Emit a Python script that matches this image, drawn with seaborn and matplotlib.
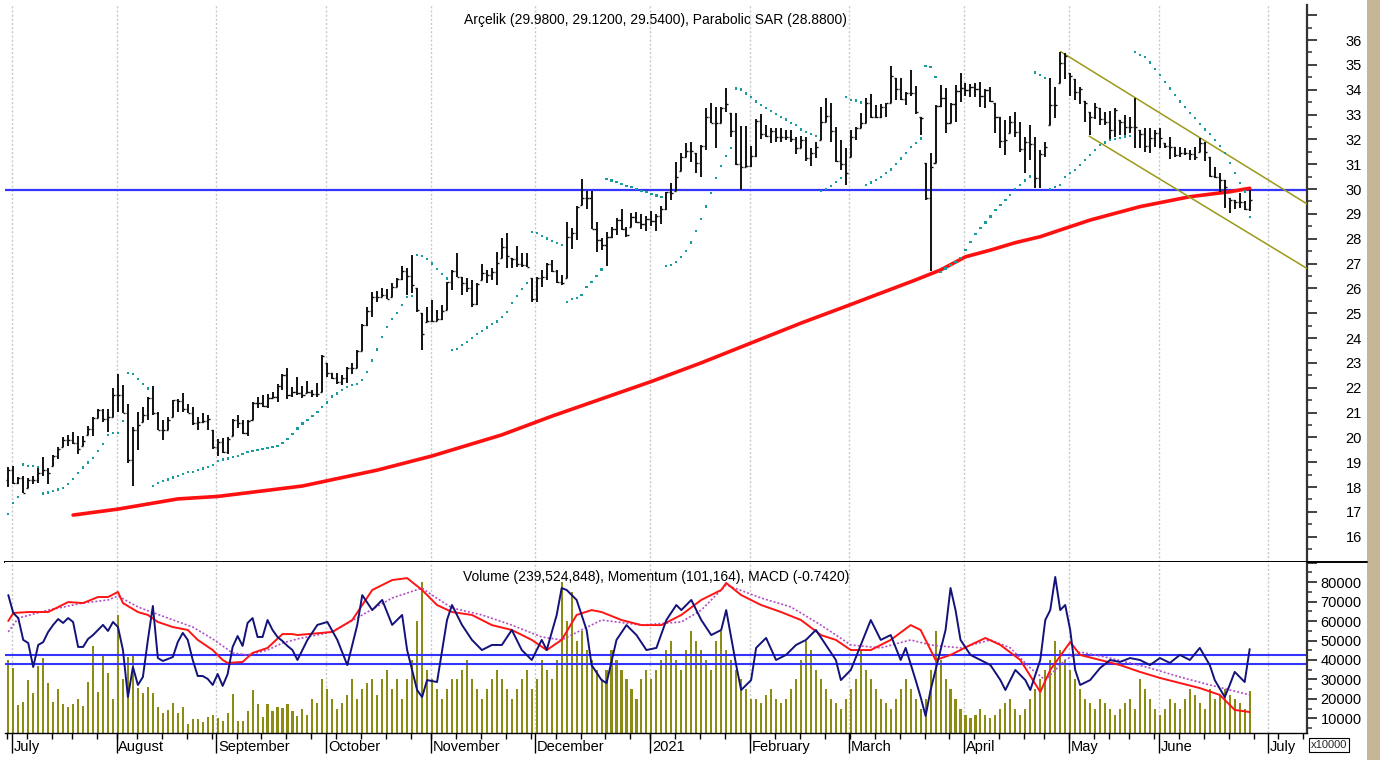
import numpy as np
import pandas as pd
import matplotlib
matplotlib.use("Agg")
import matplotlib.pyplot as plt
import matplotlib.transforms as mtransforms
from matplotlib.patches import Rectangle
from matplotlib.lines import Line2D
from matplotlib.ticker import FixedLocator, MultipleLocator, FuncFormatter
import seaborn as sns

# ---------------- data ----------------
start_date = "2020-06-30"
end_date = "2021-06-25"
holidays = ["2020-07-15", "2020-07-31", "2020-08-03", "2020-10-29", "2021-01-01",
            "2021-04-23", "2021-05-13", "2021-05-14", "2021-05-19"]

price_open = [
    18.3,18.7,18.17,18.35,17.98,18.28,18.3,18.55,18.68,18.84,
    19.24,19.62,19.89,19.89,19.78,19.65,20.09,20.32,20.76,21.1,
    20.72,20.83,21.7,21.7,20.99,19.08,20.3,20.63,20.9,21.57,
    20.96,20.3,20.3,20.83,21.5,21.47,21.16,21.0,20.56,20.63,
    20.67,20.29,19.6,19.83,19.42,20.05,20.7,20.56,20.16,20.7,
    21.4,21.4,21.26,21.57,21.64,22.08,22.51,21.7,21.84,21.77,
    21.77,21.84,21.73,21.84,23.0,22.58,22.37,22.24,22.37,22.81,
    22.78,23.49,24.52,25.1,25.66,25.66,25.73,25.66,26.07,26.36,
    26.71,26.5,26.0,24.99,24.66,24.68,24.7,24.75,25.13,26.24,
    26.71,26.47,26.2,26.0,25.36,26.34,26.6,26.54,26.64,27.21,
    27.65,27.21,27.17,26.98,26.94,26.4,25.56,26.4,26.44,27.0,
    26.7,26.27,26.4,28.05,28.24,29.36,29.62,29.62,28.38,27.95,
    27.74,28.08,28.37,28.75,28.37,28.48,28.86,28.68,28.6,28.8,
    28.7,28.9,29.2,29.86,29.9,30.74,31.3,31.54,31.44,31.03,
    31.73,32.9,32.67,32.67,33.25,33.05,32.35,31.0,30.9,30.93,
    31.33,32.75,32.2,32.13,32.35,32.1,32.08,32.08,32.0,31.64,
    31.97,31.24,31.44,31.97,32.71,32.94,32.35,31.14,31.0,31.28,
    32.08,32.44,32.67,33.45,32.89,32.91,33.29,33.48,34.46,34.01,
    33.61,33.85,33.85,32.91,31.03,29.62,31.06,33.34,33.65,32.64,
    33.42,33.96,34.05,33.99,34.12,34.01,33.75,33.99,33.45,32.91,
    31.95,32.27,32.71,32.31,31.6,31.91,31.81,30.43,31.41,32.58,
    33.38,34.28,35.06,34.66,34.42,33.92,33.56,33.11,32.89,33.25,
    32.81,32.71,32.38,32.78,32.71,32.51,32.48,32.38,32.21,31.73,
    32.04,32.27,31.84,31.73,31.68,31.37,31.46,31.44,31.41,31.5,
    31.84,31.3,30.52,30.5,30.36,29.62,29.56,29.49,29.49,29.18]

price_high = [
    18.79,18.84,18.41,18.44,18.35,18.44,18.81,19.2,18.75,19.28,
    19.6,20.0,20.09,20.2,20.05,20.05,20.45,20.83,21.16,21.16,
    21.16,21.97,22.57,22.1,21.36,20.43,21.03,21.23,21.63,22.06,
    21.03,20.7,20.83,21.5,21.53,21.77,21.36,21.23,20.83,20.96,
    20.9,20.29,19.92,19.96,20.0,20.72,20.9,20.7,20.7,21.44,
    21.64,21.7,21.75,21.84,22.15,22.55,22.78,22.04,22.44,22.07,
    22.28,21.9,22.17,23.31,23.0,22.6,22.58,22.51,22.85,22.98,
    23.52,24.56,25.26,25.87,25.9,26.0,25.96,26.2,26.43,26.9,
    26.8,27.34,26.0,24.99,25.26,25.53,25.13,25.33,26.27,26.74,
    27.41,26.47,26.4,26.34,26.2,26.98,26.74,26.8,27.48,28.01,
    28.24,27.21,27.7,27.41,27.41,26.4,26.44,26.74,27.03,27.14,
    26.74,26.54,28.68,28.42,29.32,30.39,29.93,29.93,28.68,28.01,
    28.28,28.46,28.82,29.18,28.48,29.02,29.09,29.0,28.9,29.1,
    29.0,29.3,29.89,30.23,31.1,31.46,31.84,31.9,31.44,31.77,
    33.25,33.45,33.32,33.32,34.05,33.05,33.05,32.54,32.54,31.73,
    32.8,33.02,32.58,32.44,32.44,32.44,32.38,32.38,32.11,32.13,
    32.11,31.64,31.91,33.32,33.65,33.45,32.51,31.97,31.64,32.38,
    32.51,33.05,33.65,33.83,33.38,33.42,33.48,34.95,34.46,34.46,
    33.92,34.79,34.15,32.91,31.03,31.44,33.38,34.19,34.05,33.45,
    34.19,34.66,34.26,34.23,34.28,34.32,34.01,34.12,33.45,32.91,
    32.78,32.94,33.11,32.71,32.11,32.58,32.11,31.57,31.91,34.46,
    34.12,35.53,35.46,34.66,34.42,34.12,33.56,33.11,33.45,33.25,
    33.11,33.15,33.25,32.78,32.98,32.91,33.65,32.38,32.44,32.44,
    32.38,32.44,31.84,32.11,31.7,31.7,31.64,31.57,31.7,32.04,
    31.91,31.3,30.9,30.63,30.36,29.62,29.56,29.83,29.53,29.98]

price_low = [
    18.01,18.12,18.12,17.74,17.98,18.12,18.17,18.44,18.12,18.84,
    19.11,19.62,19.65,19.73,19.33,19.65,20.09,20.05,20.76,20.63,
    20.22,20.83,21.03,20.96,18.95,18.04,19.49,20.63,20.7,20.9,
    20.29,19.89,20.29,20.83,21.03,21.03,20.96,20.49,20.29,20.56,
    20.29,19.55,19.25,19.36,19.33,20.05,20.36,20.13,20.05,20.7,
    21.17,21.24,21.17,21.57,21.44,21.9,21.53,21.64,21.7,21.57,
    21.77,21.64,21.64,21.84,22.44,22.34,22.15,22.11,22.17,22.55,
    22.78,23.49,24.48,24.86,25.46,25.66,25.56,25.66,26.07,26.34,
    25.73,25.8,25.06,23.52,24.66,24.66,24.7,24.73,25.13,25.93,
    26.47,25.73,25.87,25.26,25.33,26.34,26.2,26.34,26.13,27.21,
    26.8,26.8,26.87,26.87,26.85,25.46,25.46,26.04,26.34,26.67,
    26.2,26.13,26.4,27.58,27.95,29.36,29.18,28.37,27.48,27.54,
    26.9,28.01,28.15,28.35,28.08,28.48,28.62,28.4,28.3,28.5,
    28.3,28.6,29.15,29.56,29.9,30.74,31.3,31.1,30.63,30.47,
    31.57,32.64,31.64,32.64,33.11,32.11,30.95,29.96,30.9,30.9,
    31.3,32.0,32.08,31.84,31.91,31.91,31.97,31.91,31.41,31.64,
    31.14,30.93,31.24,31.97,32.71,31.91,31.1,30.77,30.16,31.28,
    31.97,32.44,32.64,32.84,32.84,32.84,32.91,33.48,33.58,33.58,
    33.38,33.75,33.02,32.18,29.56,26.71,31.06,33.32,32.24,32.64,
    32.71,33.52,33.75,33.72,33.72,33.32,33.25,33.52,32.24,31.64,
    31.37,32.27,32.11,31.5,30.66,31.17,30.03,30.03,31.28,32.58,
    32.85,34.28,34.42,33.75,33.58,33.42,32.71,32.17,32.81,32.58,
    32.58,31.97,32.08,32.17,32.17,32.24,31.64,31.64,31.5,31.44,
    31.7,31.64,31.64,31.19,31.3,31.3,31.37,31.17,31.17,31.5,
    31.14,30.47,30.43,29.89,29.22,29.02,29.18,29.22,29.15,29.12]

price_close = [
    18.7,18.17,18.35,17.77,18.28,18.3,18.55,18.68,18.55,19.24,
    19.55,19.89,19.89,19.78,19.55,19.86,20.32,20.76,21.1,20.72,
    20.83,21.7,21.7,20.99,19.08,20.3,20.5,20.9,21.57,20.96,
    20.3,20.3,20.7,21.5,21.47,21.16,21.0,20.56,20.63,20.67,
    20.72,19.6,19.83,19.42,19.92,20.7,20.56,20.16,20.67,21.4,
    21.4,21.26,21.57,21.64,22.08,22.51,21.7,21.84,21.77,21.7,
    21.84,21.73,21.75,23.27,22.58,22.37,22.24,22.37,22.81,22.78,
    23.49,24.52,25.1,25.66,25.64,25.73,25.58,26.07,26.36,26.71,
    26.5,26.13,25.13,24.16,24.68,24.7,24.75,25.1,26.24,26.71,
    26.47,26.2,26.0,25.36,26.17,26.6,26.54,26.64,27.03,27.65,
    27.3,27.17,26.98,26.94,26.87,25.56,26.4,26.44,27.0,26.7,
    26.27,26.2,28.05,28.24,29.29,29.62,29.62,28.38,27.95,27.74,
    28.08,28.37,28.75,28.37,28.15,28.86,28.68,28.6,28.8,28.7,
    28.9,29.2,29.86,29.85,30.5,31.28,31.54,31.54,31.03,31.73,
    32.9,32.67,32.67,33.25,33.42,32.35,31.0,30.9,30.93,31.33,
    32.75,32.2,32.13,32.35,32.1,32.08,32.08,32.0,31.64,31.97,
    31.24,31.44,31.68,32.71,32.94,32.35,31.14,31.0,30.63,32.08,
    32.44,32.67,33.45,32.89,32.91,33.29,33.45,34.55,34.01,33.61,
    33.85,33.85,33.12,32.85,29.62,30.9,33.34,33.65,32.64,33.42,
    33.96,34.05,33.99,34.12,34.01,33.75,33.99,33.56,32.91,31.95,
    31.97,32.71,32.31,31.6,31.91,31.81,30.43,31.41,31.68,33.38,
    33.38,35.06,35.36,34.55,33.92,34.01,33.48,32.89,33.29,32.81,
    32.71,32.38,33.18,32.71,32.51,32.48,32.51,32.21,31.73,32.04,
    32.27,32.04,31.73,31.68,31.37,31.46,31.44,31.41,31.3,31.84,
    31.5,30.52,30.5,30.36,30.09,29.56,29.49,29.49,29.18,29.54]

parabolic_sar = [
    16.91,17.35,17.6,18.91,18.86,18.84,18.81,17.74,17.78,17.83,
    17.9,17.97,18.12,18.32,18.57,18.79,18.99,19.18,19.46,19.73,
    20.08,20.18,20.18,20.65,22.6,22.55,22.35,22.14,21.97,18.04,
    18.17,18.25,18.3,18.38,18.44,18.51,18.59,18.61,18.68,18.75,
    18.81,18.9,19.06,19.11,19.15,19.2,19.25,19.32,19.4,19.45,
    19.49,19.53,19.56,19.62,19.66,19.76,19.92,20.13,20.36,20.56,
    20.7,20.87,21.03,21.21,21.4,21.64,21.77,21.91,22.04,22.11,
    22.15,22.31,22.64,23.09,23.54,24.03,24.43,24.77,25.02,25.33,
    25.64,25.69,27.34,27.3,27.17,27.0,26.78,26.58,26.4,23.52,
    23.56,23.72,23.85,23.99,24.15,24.28,24.42,24.55,24.66,24.86,
    25.06,25.4,25.69,25.96,26.2,28.26,28.22,28.11,28.01,27.92,
    27.84,27.74,25.44,25.57,25.6,25.73,26.04,26.27,26.5,26.76,
    30.39,30.34,30.27,30.2,30.13,30.07,30.0,29.93,29.88,29.8,
    29.74,29.69,26.9,26.95,27.05,27.25,27.5,27.85,28.3,28.8,
    29.3,29.85,30.43,30.93,31.34,31.66,34.05,34.01,33.85,33.69,
    33.52,33.38,33.25,33.14,33.02,32.89,32.8,32.67,32.58,32.4,
    32.31,32.22,32.13,29.93,29.99,30.13,30.27,30.43,33.69,33.58,
    33.56,33.48,30.16,30.26,30.36,30.47,30.63,30.79,31.0,31.23,
    31.44,31.68,31.84,32.03,34.95,34.9,34.52,26.67,26.8,26.94,
    27.07,27.21,27.54,27.88,28.19,28.42,28.65,28.89,29.16,29.36,
    29.56,29.76,29.99,30.16,30.34,30.5,34.69,34.59,34.46,30.0,
    30.09,30.16,30.47,30.63,30.77,30.97,31.17,31.37,31.57,31.77,
    31.87,31.97,32.0,32.04,32.11,32.13,35.53,35.4,35.33,35.09,
    34.82,34.59,34.32,34.05,33.79,33.52,33.29,33.07,32.85,32.62,
    32.4,32.21,31.97,31.73,31.46,31.06,30.63,30.23,29.9,28.88]

# 200-day moving average, read at selected sessions (session number, value)
ma_session = [13, 22, 34, 42, 59, 74, 85, 99, 109, 119, 129, 139, 149, 159, 169,
              182, 187, 192, 197, 202, 207, 211, 217, 227, 237, 245, 249]
ma_value = [16.87, 17.11, 17.52, 17.62, 18.04, 18.68, 19.25, 20.1, 20.85, 21.55, 22.25,
            23.0, 23.8, 24.6, 25.35, 26.34, 26.74, 27.27, 27.54, 27.84, 28.08, 28.35,
            28.75, 29.29, 29.69, 29.89, 30.03]

support_level = 29.95
channel_upper_session = [211.1, 260.5]
channel_upper_value = [35.53, 29.4]
channel_lower_session = [216.8, 260.5]
channel_lower_value = [32.13, 26.8]

# volume in units of 10000 shares
volume = [
    40000,36000,16900,18600,29700,22900,36900,40800,28000,18600,
    25000,17400,16000,17400,20000,16400,28500,47200,23400,42500,
    33200,20000,63000,30100,41700,42000,25500,23200,26100,23200,
    16000,13000,14400,18100,13000,15700,7100,9600,9600,8300,
    10900,11800,10100,8800,12600,22400,8800,8800,14000,24600,
    17400,10900,17400,14000,15700,15200,17400,14000,11300,
    15000,12000,20000,18000,30000,25000,20000,15000,18000,22000,
    30000,20000,25000,28000,30000,22000,30000,35000,25000,30000,20000,
    30000,40000,60000,80000,35000,30000,25000,20000,25000,30000,
    30000,35000,40000,30000,25000,20000,25000,30000,35000,30000,
    25000,20000,25000,30000,35000,25000,30000,40000,35000,30000,
    40000,80000,60000,75000,50000,55000,45000,40000,35000,30000,
    35000,45000,40000,35000,30000,25000,20000,30000,35000,30000,
    35000,40000,45000,50000,40000,35000,45000,55000,50000,45000,
    40000,35000,50000,55000,45000,40000,35000,30000,25000,20000,
    20000,18000,22000,25000,20000,18000,20000,25000,30000,40000,
    50000,45000,35000,30000,25000,20000,18000,15000,20000,25000,
    30000,45000,35000,30000,25000,20000,18000,15000,20000,25000,
    30000,25000,20000,15000,20000,35000,55000,40000,30000,25000,
    20000,15000,12000,10000,12000,15000,12000,10000,12000,15000,
    18000,20000,15000,12000,15000,20000,25000,30000,35000,40000,
    50000,45000,40000,35000,30000,25000,20000,18000,15000,20000,
    18000,15000,12000,15000,18000,20000,15000,30000,25000,20000,
    15000,12000,15000,20000,18000,15000,20000,25000,22000,18000,
    15000,25000,20000,22000,25000,22000,20000,18000,15000,24000]

# momentum (plotted on the volume scale)
momentum_session = list(range(0, 59)) + [
    60, 62, 64, 66, 68, 70, 71, 73, 75, 77, 79, 80, 82, 83, 84, 86, 88, 89, 91, 93,
    95, 97, 99, 101, 103, 105, 107, 108, 110, 111, 112, 114, 116, 117, 119, 120, 122,
    124, 126, 128, 130, 132, 134, 135, 137, 139, 141, 143, 144, 146, 147, 149, 150,
    152, 154, 156, 158, 160, 162, 164, 166, 167, 169, 171, 173, 175, 177, 179, 180,
    182, 183, 184, 185, 186, 188, 189, 190, 191, 193, 195, 197, 199, 200, 202, 204,
    205, 207, 208, 209, 210, 211, 212, 213, 214, 215, 217, 219, 221, 223, 225, 227,
    229, 231, 233, 235, 237, 239, 241, 242, 244, 245, 246, 248, 249]
momentum_value = [
    73300,64100,61500,50300,48700,36400,47700,49200,54400,58000,
    61000,59000,61500,59500,46700,46700,50800,52800,55400,58000,
    54900,59500,56900,45100,21000,36400,27200,31300,50300,67700,
    41000,39500,40500,41500,49200,53900,50300,40000,31800,31800,
    30300,27200,32800,26700,32800,46700,52300,47200,59000,61500,
    51800,51800,60500,55400,51800,49700,47200,45100,40000,
    50300,58000,59500,50300,37400,58000,73300,65600,70800,58000,
    63100,45100,24600,21000,29700,28700,60500,68200,58000,50300,
    45100,47700,47700,55400,45100,40000,50300,45100,63100,76900,
    75900,70800,55400,37400,29700,28200,50300,57900,52800,45100,
    46200,60500,68200,65600,70800,60500,52800,55400,65600,37400,
    24600,29700,46200,51300,40000,42600,47700,50300,55400,47700,
    40000,29700,34900,47700,60500,50300,52800,40000,46200,29700,
    21000,11300,24600,34900,55400,76900,65600,50300,42600,40000,
    37400,29700,24600,34900,29700,24600,40000,60500,65600,82600,
    65600,68200,55400,34900,27200,29700,35900,40000,39000,41000,
    40000,37400,41000,38500,42600,40000,46200,37400,29700,21000,
    27200,33900,28700,45600]

# MACD and signal (plotted on the volume scale)
macd_session = [0, 1, 4, 8, 12, 15, 18, 20, 22, 23, 26, 28, 30, 33, 36, 38, 41, 43, 44,
                47, 49, 52, 55, 57, 58, 65, 69, 73, 77, 80, 83, 86, 89, 93, 97, 101, 105,
                108, 111, 114, 117, 119, 123, 127, 131, 135, 139, 143, 144, 147, 151, 155,
                159, 163, 166, 169, 173, 177, 181, 183, 186, 189, 193, 196, 199, 203, 207,
                209, 213, 215, 219, 223, 227, 231, 235, 239, 243, 246, 249]
macd_value = [60000, 64100, 64600, 64600, 69700, 69200, 72300, 72300, 74900, 69200,
              64600, 63100, 59500, 56900, 55400, 50300, 45100, 40000, 38500, 39000,
              43600, 46200, 53300, 53300, 52800, 54400, 60500, 75900, 81000, 82000,
              75900, 68200, 64600, 63100, 57900, 55400, 50300, 45100, 50300, 63100,
              65600, 64600, 60500, 57900, 57900, 63100, 70800, 75900, 79500, 73300,
              68200, 64600, 60500, 52800, 50300, 45100, 45100, 50300, 57900, 55400,
              40000, 42600, 47700, 51300, 47700, 40000, 23600, 34900, 49200, 42600,
              40000, 37400, 33900, 30800, 28200, 25600, 22100, 14400, 13300]
signal_session = [0, 2, 8, 15, 20, 22, 26, 32, 37, 41, 45, 48, 52, 55, 58, 65, 71, 77,
                  83, 85, 89, 95, 101, 107, 111, 115, 119, 127, 135, 139, 144, 151, 157,
                  163, 169, 175, 181, 185, 191, 197, 201, 205, 208, 212, 215, 221, 229,
                  235, 241, 249]
signal_value = [54400, 61500, 65600, 69200, 70800, 72800, 67200, 61500, 56900, 50800,
                43600, 42600, 45100, 48700, 50800, 54400, 63100, 71800, 76900, 73300,
                66700, 63100, 57900, 51800, 50300, 55400, 60500, 57900, 59500, 65600,
                78500, 71800, 67200, 57900, 47700, 46200, 50300, 47700, 46200, 50300,
                46200, 35900, 29700, 40000, 44100, 41000, 35900, 31300, 27200, 22100]

volume_levels = [42500, 37800]

month_names = ["July", "August", "September", "October", "November", "December",
               "2021", "February", "March", "April", "May", "June", "July"]

title_main = "Arçelik (29.9800, 29.1200, 29.5400), Parabolic SAR (28.8800)"
title_lower = "Volume (239,524,848), Momentum (101,164), MACD (-0.7420)"

# ---------------- sessions / calendar ----------------
hol = pd.to_datetime(holidays)
all_days = pd.bdate_range(start_date, "2021-07-31")
all_days = all_days[~all_days.isin(hol)]
n = len(price_close)
session = np.arange(n)
cal = pd.DataFrame({"date": all_days, "s": np.arange(len(all_days))})
month_first = cal.groupby([cal.date.dt.year, cal.date.dt.month])["s"].min().values
month_first = [m for m in month_first if m > 0][:len(month_names)]
iso = cal.date.dt.isocalendar()
week_first = cal.groupby([iso.year, iso.week])["s"].min().values
week_first = [w for w in week_first if w <= 260]
month_pos = [m - 0.27 for m in month_first]
week_pos = [w - 0.22 for w in week_first]

# ---------------- figure ----------------
sns.set_theme(style="white")
plt.rcParams["font.family"] = ["Liberation Sans", "DejaVu Sans"]

W, H = 1380, 760
fig = plt.figure(figsize=(W / 100, H / 100), dpi=100)
fig.patch.set_facecolor("white")


def fx(px):
    return px / W


def fy(py):
    return 1 - py / H


ax1 = fig.add_axes([fx(5), fy(562), fx(1307) - fx(5), fy(5) - fy(562)])
ax2 = fig.add_axes([fx(5), fy(733), fx(1307) - fx(5), fy(562) - fy(733)], sharex=ax1)

grid_kw = dict(color="#c9c9c9", lw=1.0, ls=(0, (1.5, 1.5)), zorder=0)
for ax in (ax1, ax2):
    for p in month_pos:
        ax.axvline(p, **grid_kw)

# --- price panel ---
ax1.axhline(support_level, color="#3434ff", lw=1.6, zorder=2)
sns.lineplot(x=ma_session, y=ma_value, ax=ax1, color="#ff1010", lw=2.6,
             estimator=None, errorbar=None, legend=False, zorder=3)
sns.lineplot(x=channel_upper_session, y=channel_upper_value, ax=ax1, color="#9a9a18",
             lw=1.1, estimator=None, errorbar=None, legend=False, zorder=3)
sns.lineplot(x=channel_lower_session, y=channel_lower_value, ax=ax1, color="#9a9a18",
             lw=1.1, estimator=None, errorbar=None, legend=False, zorder=3)
ax1.vlines(session, price_low, price_high, color="#111111", lw=1.4, zorder=4)
ax1.hlines(price_open, session - 0.42, session, color="#111111", lw=1.0, zorder=4)
ax1.hlines(price_close, session, session + 0.42, color="#111111", lw=1.0, zorder=4)
sns.scatterplot(x=session, y=parabolic_sar, ax=ax1, marker="s", s=2.6,
                color="#1a9c9c", edgecolor="none", linewidth=0, legend=False, zorder=5)

ax1.set_xlim(-0.66, 260.5)
ax1.set_ylim(14.98, 37.41)

# --- lower panel ---
ax2.bar(session, volume, width=0.42, color="#8c8c14", edgecolor="none", zorder=1)
for lv in volume_levels:
    ax2.axhline(lv, color="#3434ff", lw=1.5, zorder=2)
sns.lineplot(x=signal_session, y=signal_value, ax=ax2, color="#b24fc4", lw=1.2,
             linestyle=(0, (1.2, 1.2)), estimator=None, errorbar=None, legend=False, zorder=3)
sns.lineplot(x=macd_session, y=macd_value, ax=ax2, color="#ff1414", lw=1.4,
             estimator=None, errorbar=None, legend=False, zorder=3)
sns.lineplot(x=momentum_session, y=momentum_value, ax=ax2, color="#12127a", lw=1.4,
             estimator=None, errorbar=None, legend=False, zorder=4)
ax2.set_ylim(2560, 90260)

# --- axes styling ---
for ax in (ax1, ax2):
    ax.set_xlabel("")
    ax.set_ylabel("")
    ax.spines["left"].set_visible(False)
    ax.spines["top"].set_visible(False)
    ax.spines["right"].set_color("#333333")
    ax.spines["right"].set_linewidth(1.6)
    ax.spines["bottom"].set_color("black")
    ax.yaxis.tick_right()
    ax.tick_params(axis="y", which="major", right=True, left=False, direction="out",
                   length=7.5, width=1.3, color="#333333", pad=32, labelsize=10.5,
                   labelcolor="black")
    ax.tick_params(axis="y", which="minor", right=True, left=False, direction="out",
                   length=3.8, width=1.1, color="#333333")
ax1.spines["bottom"].set_linewidth(1.4)
ax2.spines["bottom"].set_linewidth(1.0)

ax1.yaxis.set_major_locator(FixedLocator(list(range(16, 38))))
ax1.yaxis.set_minor_locator(MultipleLocator(0.5))
ax1.yaxis.set_major_formatter(FuncFormatter(lambda v, p: f"{int(round(v))}" if 16 <= v <= 36 else ""))
ax2.yaxis.set_major_locator(FixedLocator(list(range(10000, 90001, 10000))))
ax2.yaxis.set_minor_locator(MultipleLocator(5000))
ax2.yaxis.set_major_formatter(FuncFormatter(lambda v, p: f"{int(round(v))}" if v <= 80000 else ""))

ax1.tick_params(axis="x", which="both", bottom=False, top=False, labelbottom=False)
ax2.xaxis.set_major_locator(FixedLocator(month_pos))
ax2.xaxis.set_minor_locator(FixedLocator(week_pos))
ax2.tick_params(axis="x", which="major", bottom=True, direction="out", length=14.5,
                width=1.0, color="black", labelbottom=False)
ax2.tick_params(axis="x", which="minor", bottom=True, direction="out", length=4.2,
                width=1.0, color="black")

for ax in (ax1, ax2):
    for lab in ax.get_yticklabels():
        lab.set_horizontalalignment("right")

trans = mtransforms.blended_transform_factory(ax2.transData, fig.transFigure)
for p, name in zip(month_pos, month_names):
    ax2.text(p + 0.35, fy(747), name, transform=trans, ha="left", va="center",
             fontsize=10.5, color="black", clip_on=False)

# titles
fig.text(fx(655), fy(20), title_main, ha="center", va="center", fontsize=10, color="black")
fig.text(fx(656), fy(577), title_lower, ha="center", va="center", fontsize=10, color="black")

# decorations
fig.add_artist(Line2D([fx(1307), fx(1367)], [fy(562), fy(562)], color="black", lw=1.4))
fig.add_artist(Rectangle((fx(1367), 0), 1 - fx(1367), 1, transform=fig.transFigure,
                         facecolor="#c5b697", edgecolor="none", zorder=0))
# scale box, placed just under the lowest volume label so both stay readable
fig.text(fx(1329), fy(745), "x10000", ha="center", va="center", fontsize=8, zorder=10,
         bbox=dict(boxstyle="square,pad=0.15", fc="white", ec="black", lw=0.8))

fig.savefig("out.png", dpi=100, facecolor="white")
